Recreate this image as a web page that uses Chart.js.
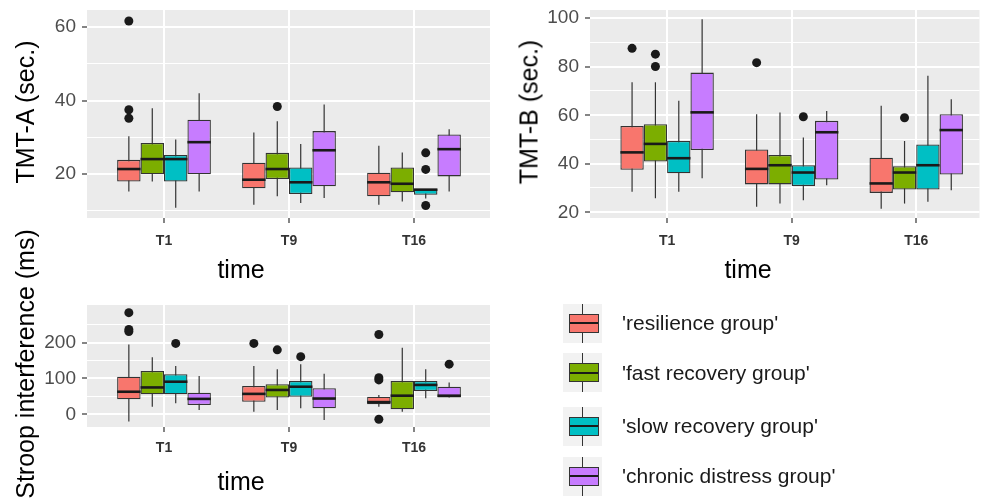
<!DOCTYPE html>
<html><head><meta charset="utf-8">
<script src="https://cdn.jsdelivr.net/npm/chart.js@4/dist/chart.umd.min.js"></script>
<style>
html,body{margin:0;padding:0;background:#fff;}
body{width:984px;height:498px;position:relative;overflow:hidden;font-family:"Liberation Sans",Arial,sans-serif;}
canvas{position:absolute;}
.ytitle{position:absolute;transform:translate(-50%,-50%) rotate(-90deg);white-space:nowrap;font-size:25px;line-height:1;color:#000;}
.xtitle{position:absolute;transform:translate(-50%,-50%);white-space:nowrap;font-size:25px;line-height:1;color:#000;}
.lrow{position:absolute;left:563px;height:39px;display:flex;align-items:center;}
.lkey{position:relative;width:39px;height:39px;background:#F2F2F2;}
.lwh{position:absolute;left:19px;top:0;width:1px;height:39px;background:#333;}
.lbox{position:absolute;left:6px;top:10px;width:28px;height:17px;border:1.2px solid #333;}
.lmed{position:absolute;left:0;right:0;top:7.5px;height:2px;background:#1a1a1a;}
.ltxt{margin-left:20px;font-size:21px;color:#1a1a1a;white-space:nowrap;}
</style></head><body>
<canvas id="cA" width="500" height="260" style="left:0;top:0"></canvas>
<canvas id="cB" width="484" height="260" style="left:500px;top:0"></canvas>
<canvas id="cC" width="500" height="170" style="left:0;top:290px"></canvas>
<div class="ytitle" style="left:25px;top:112px">TMT-A (sec.)</div>
<div class="ytitle" style="left:529px;top:112px">TMT-B (sec.)</div>
<div class="ytitle" style="left:25px;top:364px">Stroop interference (ms)</div>
<div class="xtitle" style="left:241px;top:269px">time</div>
<div class="xtitle" style="left:748px;top:269px">time</div>
<div class="xtitle" style="left:241px;top:481px">time</div>
<div id="legend"></div>
<script>
// ---------- data ----------
const timepoints = ['T1', 'T9', 'T16'];
const groupNames = ["'resilience group'", "'fast recovery group'", "'slow recovery group'", "'chronic distress group'"];

// TMT-A (sec.)  [group][timepoint]
const tmtA_lower  = [[15.3, 11.7, 11.7], [18.0, 14.0, 12.6], [10.9, 12.2, 13.4], [15.3, 13.5, 15.3]];
const tmtA_q1     = [[18.0, 16.2, 14.0], [20.0, 18.7, 15.1], [18.0, 14.6, 14.4], [20.0, 16.7, 19.4]];
const tmtA_median = [[21.4, 18.5, 17.8], [24.1, 21.4, 17.4], [24.1, 17.8, 15.8], [28.7, 26.5, 26.8]];
const tmtA_q3     = [[23.9, 23.1, 20.4], [28.5, 25.8, 21.8], [25.2, 21.8, 16.0], [34.8, 31.7, 30.8]];
const tmtA_upper  = [[30.3, 31.3, 27.7], [37.9, 34.4, 25.9], [29.4, 28.2, 16.0], [42.0, 38.9, 32.2]];
const tmtA_outliers = [[[61.6, 37.5, 35.2], [], []], [[], [38.4], []], [[], [], [25.8, 21.3, 11.5]], [[], [], []]];

// TMT-B (sec.)
const tmtB_lower  = [[28.5, 22.3, 21.5], [25.8, 23.6, 23.6], [28.5, 25.0, 24.3], [34.0, 31.2, 29.1]];
const tmtB_q1     = [[37.5, 31.5, 28.0], [40.9, 31.5, 29.4], [36.1, 30.8, 29.4], [45.7, 33.5, 35.6]];
const tmtB_median = [[44.7, 37.9, 31.9], [48.2, 39.4, 36.4], [42.3, 36.4, 39.4], [61.2, 53.0, 53.9]];
const tmtB_q3     = [[55.6, 45.9, 42.5], [56.3, 43.6, 39.0], [49.4, 39.4, 48.0], [77.6, 57.7, 60.4]];
const tmtB_upper  = [[73.6, 60.4, 63.9], [73.6, 61.1, 49.4], [66.0, 50.8, 76.3], [99.6, 61.8, 66.6]];
const tmtB_outliers = [[[87.6], [81.7], []], [[85.2, 80.1], [], [59.0]], [[], [59.4], []], [[], [], []]];

// Stroop interference (ms)
const stroop_lower  = [[-20, 7, 21], [21, 12, 7], [31, 17, 45], [12, -16, 47]];
const stroop_q1     = [[42, 35, 28], [56, 47, 14], [56, 49, 65], [26, 17, 47]];
const stroop_median = [[63, 57, 34], [75, 68, 52], [91, 77, 82], [43, 44, 52]];
const stroop_q3     = [[105, 79, 49], [121, 84, 93], [112, 93, 93], [60, 73, 77]];
const stroop_upper  = [[195, 135, 54], [159, 126, 186], [135, 140, 126], [107, 113, 89]];
const stroop_outliers = [[[284, 237, 231], [198], [223, 102, 96, -14]], [[], [180], []], [[198], [161], []], [[], [], [140]]];

// y-axis tick values
const tmtA_majorTicks = [20, 40, 60];   const tmtA_minorTicks = [10, 30, 50];
const tmtB_majorTicks = [20, 40, 60, 80, 100]; const tmtB_minorTicks = [30, 50, 70, 90];
const stroop_majorTicks = [0, 100, 200]; const stroop_minorTicks = [50, 150, 250];

// ---------- styling ----------
const groupColors = ['#F8766D', '#7CAE00', '#00BFC4', '#C77CFF'];
const FONT = '"Liberation Sans", Arial, sans-serif';
Chart.defaults.font.family = FONT;
const DODGE = 0.75;

const boxParts = {
  id: 'boxParts',
  beforeDraw(chart) {
    const {ctx, chartArea: a} = chart;
    ctx.save();
    ctx.fillStyle = '#EBEBEB';
    ctx.fillRect(a.left, a.top, a.right - a.left, a.bottom - a.top);
    ctx.restore();
  },
  beforeDatasetsDraw(chart) {
    const {ctx} = chart; const ys = chart.scales.y;
    ctx.save();
    ctx.strokeStyle = '#333'; ctx.lineWidth = 1.2;
    chart.data.datasets.forEach((ds, i) => {
      if (!ds.whiskerLo) return;
      chart.getDatasetMeta(i).data.forEach((el, j) => {
        ctx.beginPath();
        ctx.moveTo(el.x, ys.getPixelForValue(ds.whiskerLo[j]));
        ctx.lineTo(el.x, ys.getPixelForValue(ds.whiskerHi[j]));
        ctx.stroke();
      });
    });
    ctx.restore();
  },
  afterDatasetsDraw(chart) {
    const {ctx} = chart; const ys = chart.scales.y;
    ctx.save();
    ctx.strokeStyle = '#1a1a1a'; ctx.lineWidth = 2.6;
    chart.data.datasets.forEach((ds, i) => {
      if (!ds.median) return;
      chart.getDatasetMeta(i).data.forEach((el, j) => {
        const y = ys.getPixelForValue(ds.median[j]);
        ctx.beginPath();
        ctx.moveTo(el.x - el.width / 2, y);
        ctx.lineTo(el.x + el.width / 2, y);
        ctx.stroke();
      });
    });
    ctx.restore();
  }
};

function boxChart(id, s) {
  const datasets = groupNames.map((name, g) => ({
    type: 'bar',
    label: name,
    data: timepoints.map((t, i) => ({x: i + 1, y: [s.q1[g][i], s.q3[g][i]]})),
    whiskerLo: s.lo[g], whiskerHi: s.hi[g], median: s.med[g],
    backgroundColor: groupColors[g],
    borderColor: '#333', borderWidth: 1.3, borderSkipped: false,
    categoryPercentage: DODGE, barPercentage: 1, order: 1
  }));
  const pts = [];
  s.out.forEach((byTime, g) => byTime.forEach((vals, i) => vals.forEach(v =>
    pts.push({x: i + 1 + (g - 1.5) * DODGE / groupNames.length, y: v}))));
  datasets.push({type: 'scatter', data: pts, pointRadius: 4.5, pointHoverRadius: 4.5,
    backgroundColor: '#1a1a1a', borderWidth: 0, order: 0});

  const allY = s.majors.concat(s.minors).sort((a, b) => a - b);
  const isMajor = v => s.majors.includes(v);
  return new Chart(document.getElementById(id), {
    type: 'bar',
    data: {datasets},
    plugins: [boxParts],
    options: {
      responsive: false, animation: false, devicePixelRatio: 1,
      layout: {padding: s.pad},
      plugins: {legend: {display: false}, tooltip: {enabled: false}},
      scales: {
        x: {
          type: 'linear', min: s.xmin, max: s.xmax, offset: false, stacked: false,
          afterBuildTicks: sc => { sc.ticks = timepoints.map((t, i) => ({value: i + 1})); },
          afterFit: sc => { sc.height = s.xh; sc.paddingLeft = 0; sc.paddingRight = 0; },
          ticks: {autoSkip: false, maxRotation: 0, padding: s.xpad, color: '#333',
            font: {size: 14, weight: 'bold'}, callback: v => timepoints[Math.round(v) - 1]},
          grid: {offset: false, color: '#FFFFFF', lineWidth: 2, tickColor: '#333', tickLength: 5, tickWidth: 1.2},
          border: {display: false}
        },
        y: {
          type: 'linear', min: s.ymin, max: s.ymax, stacked: false,
          afterBuildTicks: sc => { sc.ticks = allY.map(v => ({value: v})); },
          afterFit: sc => { sc.width = s.yw; sc.paddingTop = 0; sc.paddingBottom = 0; },
          ticks: {autoSkip: false, padding: 6, color: '#4D4D4D', font: {size: 19},
            callback: v => isMajor(v) ? String(v) : ''},
          grid: {color: '#FFFFFF',
            lineWidth: c => (c.tick && isMajor(c.tick.value)) ? 2 : 1.1,
            tickColor: c => (c.tick && isMajor(c.tick.value)) ? '#333' : 'rgba(0,0,0,0)',
            tickLength: 5, tickWidth: 1.2},
          border: {display: false}
        }
      }
    }
  });
}

boxChart('cA', {lo: tmtA_lower, q1: tmtA_q1, med: tmtA_median, q3: tmtA_q3, hi: tmtA_upper, out: tmtA_outliers,
  majors: tmtA_majorTicks, minors: tmtA_minorTicks, ymin: 8.1, ymax: 64.6, xmin: 0.384, xmax: 3.608,
  pad: {top: 10, right: 10, left: 0, bottom: 0}, yw: 87, xh: 42, xpad: 9.5});
boxChart('cB', {lo: tmtB_lower, q1: tmtB_q1, med: tmtB_median, q3: tmtB_q3, hi: tmtB_upper, out: tmtB_outliers,
  majors: tmtB_majorTicks, minors: tmtB_minorTicks, ymin: 17.65, ymax: 103.4, xmin: 0.381, xmax: 3.508,
  pad: {top: 10, right: 0, left: 0, bottom: 0}, yw: 90, xh: 42, xpad: 9.5});
boxChart('cC', {lo: stroop_lower, q1: stroop_q1, med: stroop_median, q3: stroop_q3, hi: stroop_upper, out: stroop_outliers,
  majors: stroop_majorTicks, minors: stroop_minorTicks, ymin: -35.5, ymax: 305.3, xmin: 0.384, xmax: 3.608,
  pad: {top: 15, right: 10, left: 0, bottom: 0}, yw: 87, xh: 33, xpad: 7.6});

// ---------- legend ----------
const legendRowCenters = [323, 372.5, 426, 476];
const legend = document.getElementById('legend');
groupNames.forEach((name, g) => {
  const row = document.createElement('div');
  row.className = 'lrow';
  row.style.top = (legendRowCenters[g] - 19.5) + 'px';
  row.innerHTML = '<div class="lkey"><div class="lwh"></div><div class="lbox" style="background:' + groupColors[g] +
    '"><div class="lmed"></div></div></div><div class="ltxt"></div>';
  row.querySelector('.ltxt').textContent = name;
  legend.appendChild(row);
});
</script>
</body></html>
